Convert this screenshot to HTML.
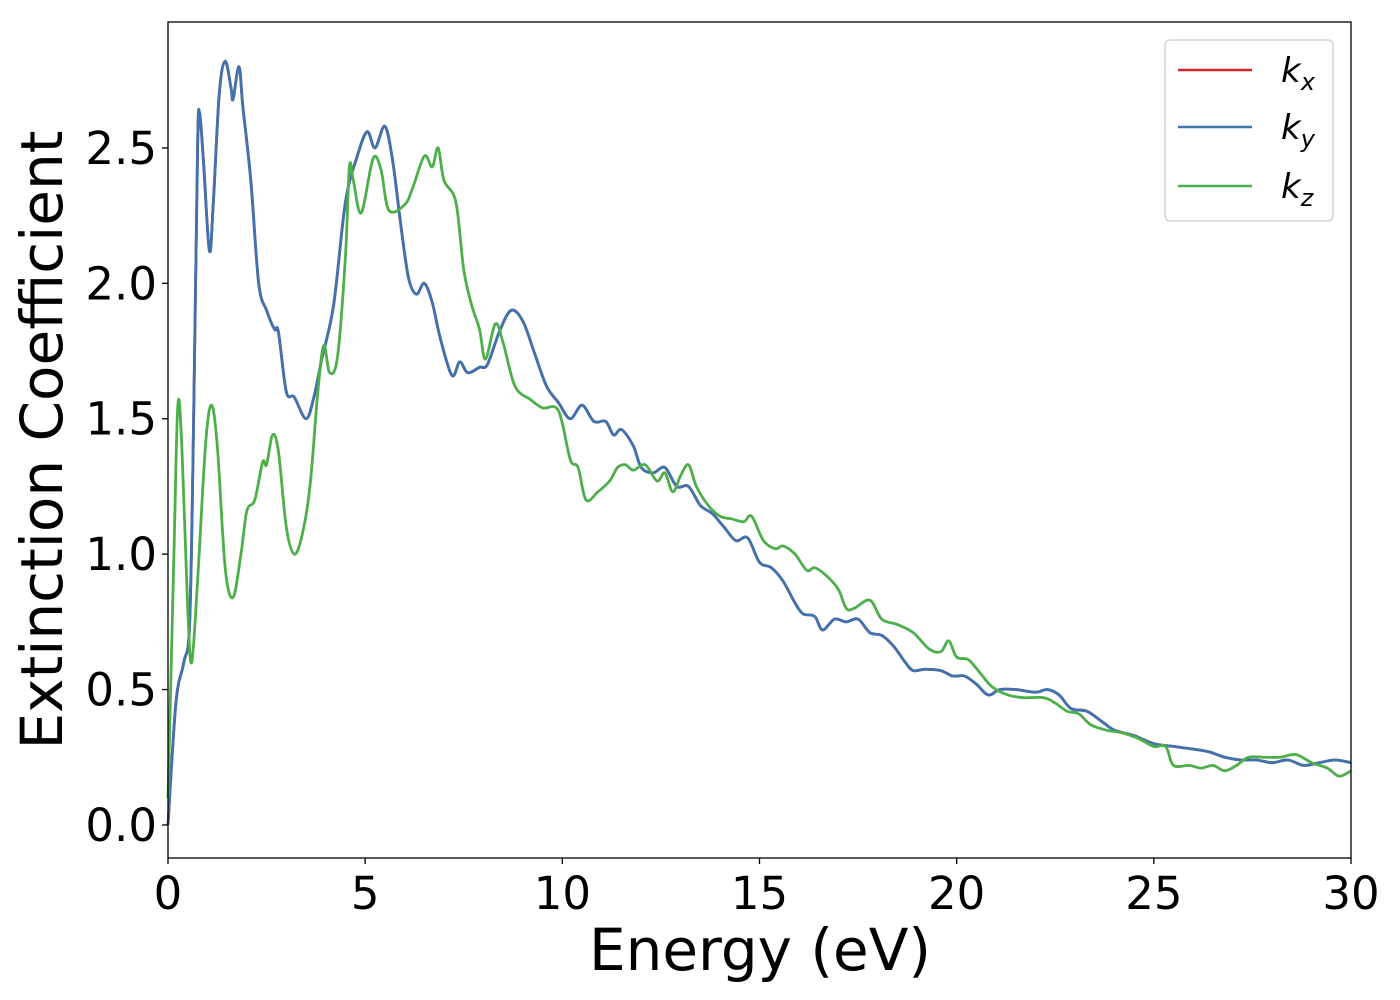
<!DOCTYPE html>
<html><head><meta charset="utf-8"><style>
body{margin:0;background:#fff}
svg{display:block;font-family:"DejaVu Sans","Liberation Sans",sans-serif}
</style></head><body>
<svg id="chart" width="1400" height="1000">
<rect x="168" y="22" width="1183" height="836" fill="#fff"/>
<g id="series"></g>
<rect x="168" y="22" width="1183" height="836" fill="none" stroke="#000" stroke-width="1.3"/>
<g id="axes"></g>
<text x="760" y="970" font-size="58" text-anchor="middle">Energy (eV)</text>
<text transform="translate(62,440) rotate(-90)" font-size="58" text-anchor="middle">Extinction Coefficient</text>
<g>
<rect x="1165" y="40" width="168" height="181" rx="5" fill="#fff" stroke="#ccc" stroke-width="1.3"/>
<line x1="1178" y1="70" x2="1252" y2="70" stroke="#d62728" stroke-width="2.5"/>
<text x="1281" y="82" font-size="34" font-style="italic">k<tspan font-size="24" dy="8">x</tspan></text>
<line x1="1178" y1="127" x2="1252" y2="127" stroke="#3f73b0" stroke-width="2.5"/>
<text x="1281" y="139" font-size="34" font-style="italic">k<tspan font-size="24" dy="8">y</tspan></text>
<line x1="1178" y1="186" x2="1252" y2="186" stroke="#4daf4a" stroke-width="2.5"/>
<text x="1281" y="198" font-size="34" font-style="italic">k<tspan font-size="24" dy="8">z</tspan></text>
</g>
</svg>
<script>
const xTicks=[0,5,10,15,20,25,30];
const yTicks=[0.0,0.5,1.0,1.5,2.0,2.5];
const yTickLabels=["0.0","0.5","1.0","1.5","2.0","2.5"];
const energyXY=[0,0.2,0.4,0.55,0.65,0.75,0.8,0.9,1.05,1.15,1.3,1.45,1.6,1.65,1.8,1.9,2.1,2.3,2.5,2.7,2.8,3.0,3.2,3.5,3.7,3.9,4.2,4.5,4.8,5.05,5.25,5.5,5.7,5.9,6.1,6.3,6.5,6.7,6.9,7.2,7.4,7.6,7.9,8.1,8.4,8.7,9.0,9.3,9.6,9.9,10.2,10.5,10.8,11.1,11.3,11.5,11.8,12.0,12.3,12.6,12.9,13.2,13.5,13.8,14.1,14.4,14.7,15.0,15.3,15.6,15.9,16.1,16.4,16.6,16.9,17.2,17.5,17.8,18.1,18.4,18.7,18.9,19.2,19.6,19.9,20.2,20.5,20.8,21.1,21.5,22.0,22.3,22.6,22.9,23.3,23.7,24.0,24.5,25.0,25.5,26.0,26.4,26.8,27.2,27.6,28.0,28.4,28.8,29.2,29.6,30];
const kxy=[0,0.45,0.6,0.75,1.5,2.5,2.63,2.45,2.12,2.3,2.7,2.82,2.72,2.68,2.8,2.65,2.38,2.0,1.9,1.83,1.82,1.6,1.58,1.5,1.58,1.72,1.92,2.3,2.47,2.56,2.5,2.58,2.45,2.22,2.02,1.96,2.0,1.93,1.8,1.66,1.71,1.67,1.69,1.70,1.82,1.90,1.86,1.74,1.62,1.56,1.5,1.55,1.49,1.49,1.44,1.46,1.40,1.32,1.3,1.32,1.25,1.25,1.18,1.15,1.1,1.05,1.06,0.97,0.95,0.9,0.82,0.78,0.77,0.72,0.76,0.75,0.76,0.71,0.70,0.66,0.60,0.57,0.575,0.57,0.55,0.55,0.52,0.48,0.5,0.5,0.49,0.5,0.48,0.43,0.42,0.38,0.35,0.33,0.3,0.29,0.28,0.27,0.25,0.24,0.24,0.23,0.24,0.22,0.23,0.24,0.23];
const energyZ=[0,0.15,0.25,0.35,0.5,0.6,0.75,0.95,1.1,1.25,1.45,1.65,1.85,2.0,2.2,2.4,2.5,2.65,2.8,3.0,3.2,3.4,3.6,3.8,3.95,4.1,4.3,4.5,4.6,4.7,4.9,5.2,5.4,5.6,6.0,6.2,6.5,6.7,6.85,7.0,7.3,7.5,7.7,7.9,8.05,8.3,8.5,8.8,9.2,9.5,9.9,10.2,10.4,10.6,10.9,11.2,11.4,11.6,11.8,12.1,12.4,12.6,12.8,13.0,13.2,13.4,13.7,14.0,14.3,14.6,14.8,15.1,15.4,15.6,15.9,16.2,16.4,16.7,17.0,17.2,17.4,17.8,18.1,18.5,18.9,19.3,19.6,19.8,20.0,20.3,20.6,20.9,21.3,21.7,22.2,22.5,22.8,23.1,23.4,23.8,24.2,24.6,25.0,25.3,25.5,25.9,26.2,26.5,26.8,27.1,27.4,27.8,28.2,28.6,29.0,29.4,29.7,30];
const kz=[0.1,1.0,1.55,1.4,0.8,0.6,0.9,1.4,1.55,1.4,0.95,0.84,1.0,1.16,1.2,1.34,1.33,1.44,1.38,1.1,1.0,1.07,1.25,1.6,1.77,1.67,1.73,2.1,2.43,2.38,2.26,2.46,2.42,2.27,2.29,2.35,2.47,2.43,2.5,2.38,2.3,2.05,1.92,1.83,1.72,1.85,1.78,1.62,1.57,1.54,1.53,1.35,1.32,1.2,1.23,1.27,1.32,1.33,1.31,1.33,1.27,1.3,1.23,1.29,1.33,1.25,1.18,1.14,1.13,1.12,1.14,1.05,1.02,1.03,1.0,0.94,0.95,0.92,0.87,0.8,0.8,0.83,0.76,0.74,0.71,0.65,0.64,0.68,0.62,0.61,0.56,0.51,0.48,0.47,0.47,0.45,0.42,0.41,0.37,0.35,0.34,0.32,0.29,0.29,0.22,0.22,0.21,0.22,0.2,0.22,0.25,0.25,0.25,0.26,0.23,0.21,0.18,0.2];

const NS="http://www.w3.org/2000/svg";
const X0=168,X1=1351,Y0=858,Y1=22,xMin=0,xMax=30,yMin=-0.122,yMax=2.965;
function sx(v){return X0+(v-xMin)/(xMax-xMin)*(X1-X0);}
function sy(v){return Y0-(v-yMin)/(yMax-yMin)*(Y0-Y1);}
function pathFor(xs,ys){
  const p=xs.map((x,i)=>[sx(x),sy(ys[i])]);
  let d="M"+p[0][0]+","+p[0][1];
  for(let i=0;i<p.length-1;i++){
    const a=p[Math.max(0,i-1)],b=p[i],c=p[i+1],e=p[Math.min(p.length-1,i+2)];
    const c1=[b[0]+(c[0]-a[0])/6,b[1]+(c[1]-a[1])/6],c2=[c[0]-(e[0]-b[0])/6,c[1]-(e[1]-b[1])/6];
    d+=" C"+c1[0]+","+c1[1]+" "+c2[0]+","+c2[1]+" "+c[0]+","+c[1];
  }
  return d;
}
const g=document.getElementById("series");
function addLine(xs,ys,color,name){
  const el=document.createElementNS(NS,"path");
  el.setAttribute("d",pathFor(xs,ys));
  el.setAttribute("fill","none");
  el.setAttribute("stroke",color);
  el.setAttribute("stroke-width","2.8");
  
  
  g.appendChild(el);
}
addLine(energyXY,kxy,"#d62728","kx-line");
addLine(energyXY,kxy,"#3f73b0","ky-line");
addLine(energyZ,kz,"#4daf4a","kz-line");
const ax=document.getElementById("axes");
xTicks.forEach(v=>{
  const t=document.createElementNS(NS,"line");
  t.setAttribute("x1",sx(v));t.setAttribute("x2",sx(v));t.setAttribute("y1",Y0);t.setAttribute("y2",Y0+6);
  t.setAttribute("stroke","#000");t.setAttribute("stroke-width","1.3");
  
  
  ax.appendChild(t);
  const l=document.createElementNS(NS,"text");
  l.setAttribute("x",sx(v));l.setAttribute("y",909);l.setAttribute("font-size","45");l.setAttribute("text-anchor","middle");
  l.textContent=String(v);
  
  
  ax.appendChild(l);
});
yTicks.forEach((v,i)=>{
  const t=document.createElementNS(NS,"line");
  t.setAttribute("x1",X0-6);t.setAttribute("x2",X0);t.setAttribute("y1",sy(v));t.setAttribute("y2",sy(v));
  t.setAttribute("stroke","#000");t.setAttribute("stroke-width","1.3");
  
  
  ax.appendChild(t);
  const l=document.createElementNS(NS,"text");
  l.setAttribute("x",157);l.setAttribute("y",sy(v)+16);l.setAttribute("font-size","45");l.setAttribute("text-anchor","end");
  l.textContent=yTickLabels[i];
  
  
  ax.appendChild(l);
});
</script>
</body></html>
